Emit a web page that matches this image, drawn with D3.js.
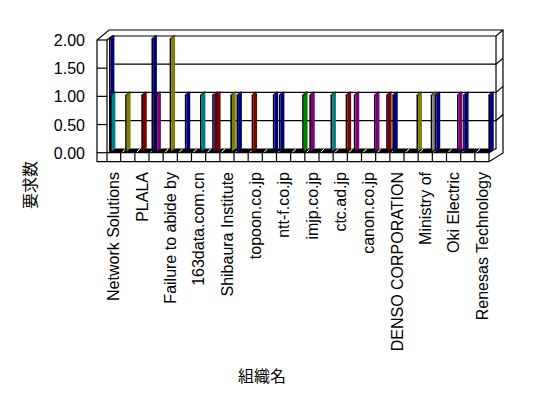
<!DOCTYPE html>
<html>
<head>
<meta charset="utf-8">
<script src="https://cdn.jsdelivr.net/npm/d3@7"></script>
<style>
  body { margin: 0; background: #fff; }
  text { font-family: "Liberation Sans", "Noto Sans CJK JP", sans-serif; font-size: 16px; fill: #000; }
</style>
</head>
<body>
<div id="chart_root"></div>
<script>
const widthValue = 548;
const heightValue = 398;

// organisations (only every other name is printed on the axis)
const orgs = [
  "Network Solutions", "", "PLALA", "", "Failure to abide by", "",
  "163data.com.cn", "", "Shibaura Institute", "", "topoon.co.jp", "",
  "ntt-f.co.jp", "", "imjp.co.jp", "", "ctc.ad.jp", "", "canon.co.jp", "",
  "DENSO CORPORATION", "", "Ministry of", "", "Oki Electric", "",
  "Renesas Technology",
];
const yTicks = [0, 0.5, 1, 1.5, 2];
const palette = ["#000080", "#008080", "#808000", "#800000", "#800080", "#008000", "#808080"];

// one entry per drawn column
const barOrg    = [0, 0, 1, 2, 3, 3, 4, 5, 6, 7, 7, 8, 9, 10, 11, 12, 13, 14, 15, 16, 17, 18, 19, 20, 21, 22, 23, 24, 25, 26];
const barSeries = [1, 2, 3, 5, 1, 5, 5, 6, 7, 5, 8, 9, 1, 2, 9, 1, 10, 3, 10, 11, 5, 11, 9, 1, 11, 11, 1, 9, 1, 12];
const barValue  = [2, 1, 1, 1, 2, 1, 2, 1, 1, 1, 1, 1, 1, 1, 1, 1, 1, 1, 1, 1, 1, 1, 1, 1, 1, 1, 1, 1, 1, 1];
const barKind   = [0, 1, 2, 3, 0, 4, 2, 0, 1, 4, 3, 2, 0, 3, 0, 0, 5, 4, 1, 3, 4, 4, 3, 0, 2, 6, 0, 4, 0, 0];

const svg = d3.select("#chart_root").append("svg")
  .attr("width", widthValue).attr("height", heightValue);

// scales
const xScale = d3.scaleLinear().domain([0, orgs.length]).range([106.5, 489]);
const catW = xScale(1) - xScale(0);
const sub = d3.scaleBand().domain(d3.range(13)).range([0, catW * 0.92]);
const yFront = d3.scaleLinear().domain([0, 2]).range([152.7, 40]);
const yBar = d3.scaleLinear().domain([0, 2]).range([151.5, 38.9]);
const color = d3.scaleOrdinal().domain(d3.range(palette.length)).range(palette);

const line = (g, d) => g.append("path").attr("d", d).attr("fill", "none")
  .attr("stroke", "#000").attr("stroke-width", 1.2);

// frame box
const frame = svg.append("g");
frame.append("path")
  .attr("d", "M97,161.7 V40 L109,30 H503 V153 L489,161.7 Z")
  .attr("fill", "#fff").attr("stroke", "#000").attr("stroke-width", 1.2);
line(frame, "M107,40 V161.7");
line(frame, "M107,40 L112,36 H496 L503,30");
line(frame, "M496,36 V149");

// back wall gridlines + side ticks
yTicks.forEach((v) => {
  if (v > 0 && v < 2) {
    line(frame, `M110,${yFront(v) - 4} H496 L503,${yFront(v) - 10}`);
  }
  line(frame, `M97,${yFront(v)} H107`);
});

// floor front face with category cells
line(frame, `M107,${yFront(0)} H${xScale(orgs.length)} L496,148.5`);
d3.range(1, orgs.length + 1).forEach((k) => {
  line(frame, `M${xScale(k)},${yFront(0)} V161.7`);
});

// zero-height columns along the floor
const floorBand = svg.append("g");
d3.range(orgs.length).forEach((k) => {
  const x0 = xScale(k) + 1;
  floorBand.append("path")
    .attr("d", `M${x0},${yFront(0)} L${x0 + catW},${yFront(0)} L${x0 + catW + 4},148.4 L${x0 + 4},148.4 Z`)
    .attr("fill", "#000");
  floorBand.append("path")
    .attr("d", `M${x0 + 1},${yFront(0) - 0.5} L${x0 + 4},149`)
    .attr("stroke", "#fff").attr("stroke-width", 1);
});

// columns
const bars = d3.range(barOrg.length).map((i) => ({
  x: xScale(barOrg[i]) + 1.5 + sub(barSeries[i]),
  v: barValue[i],
  c: color(barKind[i]),
})).sort((a, b) => a.x - b.x);

const cols = svg.append("g");
bars.forEach((b) => {
  const yt = yBar(b.v), yb = yBar(0);
  const g = cols.append("g");
  g.append("rect").attr("x", b.x).attr("y", yt).attr("width", 1.6)
    .attr("height", yb - yt).attr("fill", "#000");
  g.append("path")
    .attr("d", `M${b.x + 1.6},${yt} L${b.x + 5.4},${yt - 3.2} L${b.x + 5.4},${yb - 3.2} L${b.x + 1.6},${yb} Z`)
    .attr("fill", b.c);
  g.append("path")
    .attr("d", `M${b.x},${yt} L${b.x + 3.6},${yt - 3.2} L${b.x + 5.4},${yt - 3.2} L${b.x + 1.6},${yt} Z`)
    .attr("fill", b.c).attr("stroke", "#000").attr("stroke-width", 0.6);
});

// value labels
const yAxis = svg.append("g")
  .attr("transform", "translate(97,0)")
  .call(d3.axisLeft(yFront).tickValues(yTicks).tickFormat(d3.format(".2f")).tickSize(0).tickPadding(12));
yAxis.select(".domain").remove();
yAxis.selectAll("text").style("font-size", "16px")
  .style("font-family", "'Liberation Sans', sans-serif").attr("dy", "0.35em");

// category labels, every other one
svg.append("g").selectAll("text")
  .data(orgs.map((name, i) => ({ name, i })).filter((d) => d.i % 2 === 0))
  .join("text")
  .attr("transform", (d) => `translate(${xScale(d.i + 0.5)},172) rotate(-90)`)
  .attr("text-anchor", "end")
  .attr("dy", "0.35em")
  .text((d) => d.name);

// axis titles
svg.append("text")
  .attr("transform", "translate(30,185) rotate(-90)")
  .attr("text-anchor", "middle").attr("dy", "0.35em")
  .text("要求数");
svg.append("text")
  .attr("x", 262).attr("y", 376)
  .attr("text-anchor", "middle").attr("dy", "0.35em")
  .text("組織名");
</script>
</body>
</html>
